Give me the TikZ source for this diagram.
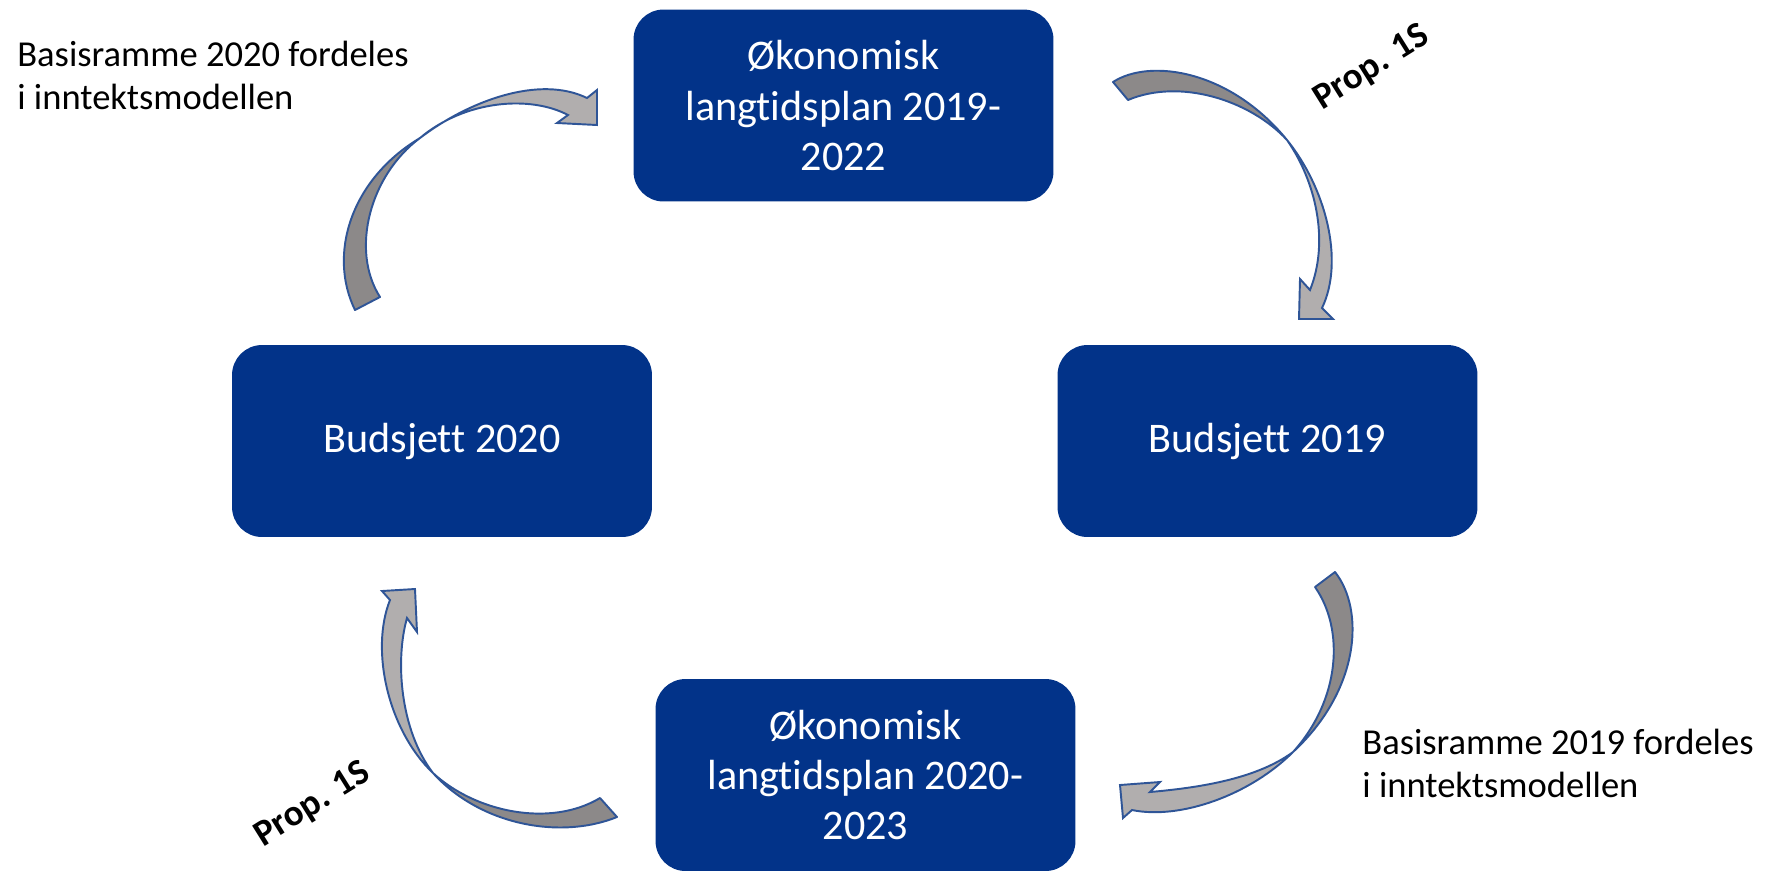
\documentclass[tikz,border=0pt]{standalone}
\usepackage{fontspec}
\setmainfont[Ligatures=NoCommon]{Carlito}
\definecolor{boxblue}{RGB}{2,51,137}
\definecolor{rimblue}{RGB}{47,85,151}
\definecolor{backgray}{RGB}{140,137,137}
\definecolor{frontgray}{RGB}{177,174,174}
\tikzstyle{box}=[rounded corners=0.6cm,fill=boxblue,text=white,minimum width=8.4cm,minimum height=3.84cm,align=center,font=\fontsize{24}{28.5}\selectfont]
\tikzstyle{note}=[align=left,inner sep=0pt,anchor=north west,font=\fontsize{20.8}{24.5}\selectfont]
\tikzstyle{prop}=[rotate=32,inner sep=0pt,font=\bfseries\fontsize{21}{25}\selectfont]
\tikzstyle{back}=[fill=backgray,draw=rimblue,line width=1.1pt,line join=round]
\tikzstyle{front}=[fill=frontgray,draw=rimblue,line width=1.1pt]

\begin{document}
\begin{tikzpicture}[x=0.02cm,y=-0.02cm]
	\useasboundingbox (0,0) rectangle (1767,870);

	\node[box] (plan19) at (843.5,105.5) {Økonomisk\\langtidsplan 2019-\\2022};
	\node[box] (budget19) at (1267.5,441) {Budsjett 2019};
	\node[box] (plan20) at (865.5,775) {Økonomisk\\langtidsplan 2020-\\2023};
	\node[box] (budget20) at (442,441) {Budsjett 2020};

	\node[note] (base20) at (17,41) {Basisramme 2020 fordeles\\i inntektsmodellen};
	\node[note] (base19) at (1362,729) {Basisramme 2019 fordeles\\i inntektsmodellen};
	\node[prop] (propA) at (1372,68) {Prop. 1S};
	\node[prop] (propB) at (313,805) {Prop. 1S};

	% plan 2019-2022 -> budsjett 2019
	\coordinate (A1) at (1113,82);
	\coordinate (A2) at (1128,100);
	\coordinate (AX) at (1287,140);
	\coordinate (AT) at (1299,319);
	\draw[back] (A1) .. controls (1150,58) and (1230,70) .. (AX)
		.. controls (1250,100) and (1180,78) .. (A2) -- cycle;
	\draw[front] (AX) .. controls (1325,187) and (1345,260) .. (1322,308)
		-- (1333,319) -- (AT) -- (1300,279) -- (1310,290)
		.. controls (1330,240) and (1315,180) .. (AX) -- cycle;

	% budsjett 2019 -> plan 2020-2023
	\coordinate (B1) at (1335,572);
	\coordinate (B2) at (1315,587);
	\coordinate (BX) at (1293,752);
	\coordinate (BT) at (1120,785);
	\draw[back] (B1) .. controls (1365,610) and (1360,690) .. (BX)
		.. controls (1340,700) and (1345,630) .. (B2) -- cycle;
	\draw[front] (BX) .. controls (1250,795) and (1180,820) .. (1132,810)
		-- (1123,818) -- (BT) -- (1160,782) -- (1150,792)
		.. controls (1195,788) and (1255,780) .. (BX) -- cycle;

	% plan 2020-2023 -> budsjett 2020
	\coordinate (C1) at (617,817);
	\coordinate (C2) at (600,798);
	\coordinate (CX) at (433,773);
	\coordinate (CT) at (415,589);
	\draw[back] (C1) .. controls (560,840) and (480,825) .. (CX)
		.. controls (475,812) and (550,828) .. (C2) -- cycle;
	\draw[front] (CX) .. controls (388,730) and (370,650) .. (390,600)
		-- (382,591) -- (CT) -- (417,632) -- (407,618)
		.. controls (395,660) and (400,730) .. (CX) -- cycle;

	% budsjett 2020 -> plan 2019-2022
	\coordinate (D1) at (355,310);
	\coordinate (D2) at (380,297);
	\coordinate (DX) at (420,138);
	\coordinate (DT) at (597,125);
	\draw[back] (D1) .. controls (328,255) and (350,180) .. (DX)
		.. controls (370,175) and (350,250) .. (D2) -- cycle;
	\draw[front] (DX) .. controls (470,100) and (540,75) .. (587,98)
		-- (597,90) -- (DT) -- (557,123) -- (568,115)
		.. controls (530,95) and (465,100) .. (DX) -- cycle;
\end{tikzpicture}
\end{document}
